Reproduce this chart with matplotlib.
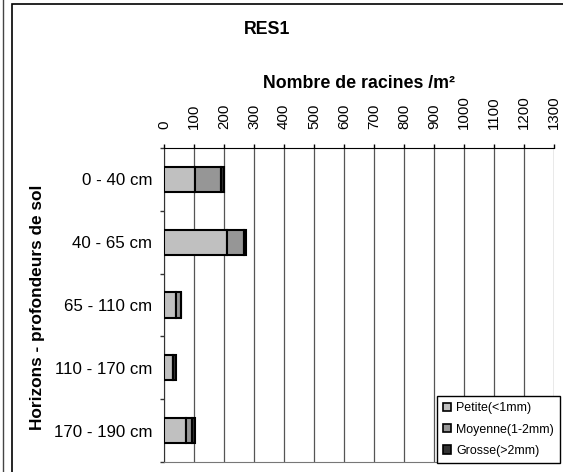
import matplotlib.pyplot as plt
from matplotlib.patches import Patch, Rectangle
from matplotlib.lines import Line2D
import numpy as np

plt.rcParams['font.family'] = ['Liberation Sans', 'DejaVu Sans']

HORIZONS = ["0 - 40 cm", "40 - 65 cm", "65 - 110 cm", "110 - 170 cm", "170 - 190 cm"]
PETITE = [103, 211, 39, 29, 72]
MOYENNE = [86, 57, 16, 1, 20]
GROSSE = [12, 5, 1, 9, 11]

SERIES = [
    ("Petite(<1mm)", PETITE, "#c0c0c0"),
    ("Moyenne(1-2mm)", MOYENNE, "#969696"),
    ("Grosse(>2mm)", GROSSE, "#333333"),
]

W, H = 563, 472
fig = plt.figure(figsize=(W / 100, H / 100), dpi=100)
ax = fig.add_axes([164 / W, 10 / H, 390 / W, 314 / H])

y = np.arange(len(HORIZONS))
left = np.zeros(len(HORIZONS))
for name, vals, color in SERIES:
    ax.barh(y, vals, left=left, height=0.4, color=color,
            edgecolor="black", linewidth=1.5, label=name, zorder=3)
    left += np.array(vals)

ax.set_xlim(0, 1300)
ax.set_ylim(len(HORIZONS) - 0.5, -0.5)

# value axis along the top, labels turned vertical
ax.xaxis.set_ticks_position("top")
ax.set_xticks(np.arange(0, 1301, 100))
ax.tick_params(axis="x", which="major", direction="out", length=3,
               width=1, pad=11, labelsize=10.8, labelrotation=90)
ax.grid(axis="x", color="#555555", linewidth=0.9, zorder=0)

# category ticks between horizons, labels centred on bars
ax.set_yticks(np.arange(-0.5, len(HORIZONS)))
ax.set_yticklabels([])
ax.set_yticks(y, minor=True)
ax.set_yticklabels(HORIZONS, minor=True)
ax.tick_params(axis="y", which="major", direction="out", length=3,
               width=1, color="#333333")
ax.tick_params(axis="y", which="minor", length=0, pad=8.5, labelsize=12.2)

ax.spines["right"].set_visible(False)
ax.spines["top"].set_color("black")
ax.spines["left"].set_color("#333333")
ax.spines["bottom"].set_color("#777777")

fig.text(267 / W, 1 - 30 / H, "RES1", ha="center", va="center",
         fontsize=12.8, fontweight="bold")
fig.text(359 / W, 1 - 83 / H, "Nombre de racines /m²", ha="center",
         va="center", fontsize=12.8, fontweight="bold")
fig.text(38 / W, 1 - 307 / H, "Horizons - profondeurs de sol", ha="center",
         va="center", rotation=90, fontsize=12.4, fontweight="bold")

handles = [Patch(facecolor=c, edgecolor="black", linewidth=1.2)
           for _, _, c in SERIES]
leg = fig.legend(handles, [s[0] for s in SERIES], loc="lower right",
                 bbox_to_anchor=(560 / W, 9 / H), borderaxespad=0,
                 fontsize=8.9, handlelength=0.65, handleheight=0.65,
                 handletextpad=0.4, labelspacing=0.75, borderpad=0.5,
                 fancybox=False, framealpha=1, edgecolor="black")
leg.get_frame().set_linewidth(1.0)

# chart border and neighbouring frame edge
fig.patches.append(Rectangle((12 / W, -0.1), 1.2, 1.1 - 4 / H,
                             transform=fig.transFigure, fill=False,
                             edgecolor="black", linewidth=1.2))
fig.lines.append(Line2D([3 / W, 3 / W], [0, 1], transform=fig.transFigure,
                        color="#444444", linewidth=1.0))

fig.savefig("out.png", dpi=100)
